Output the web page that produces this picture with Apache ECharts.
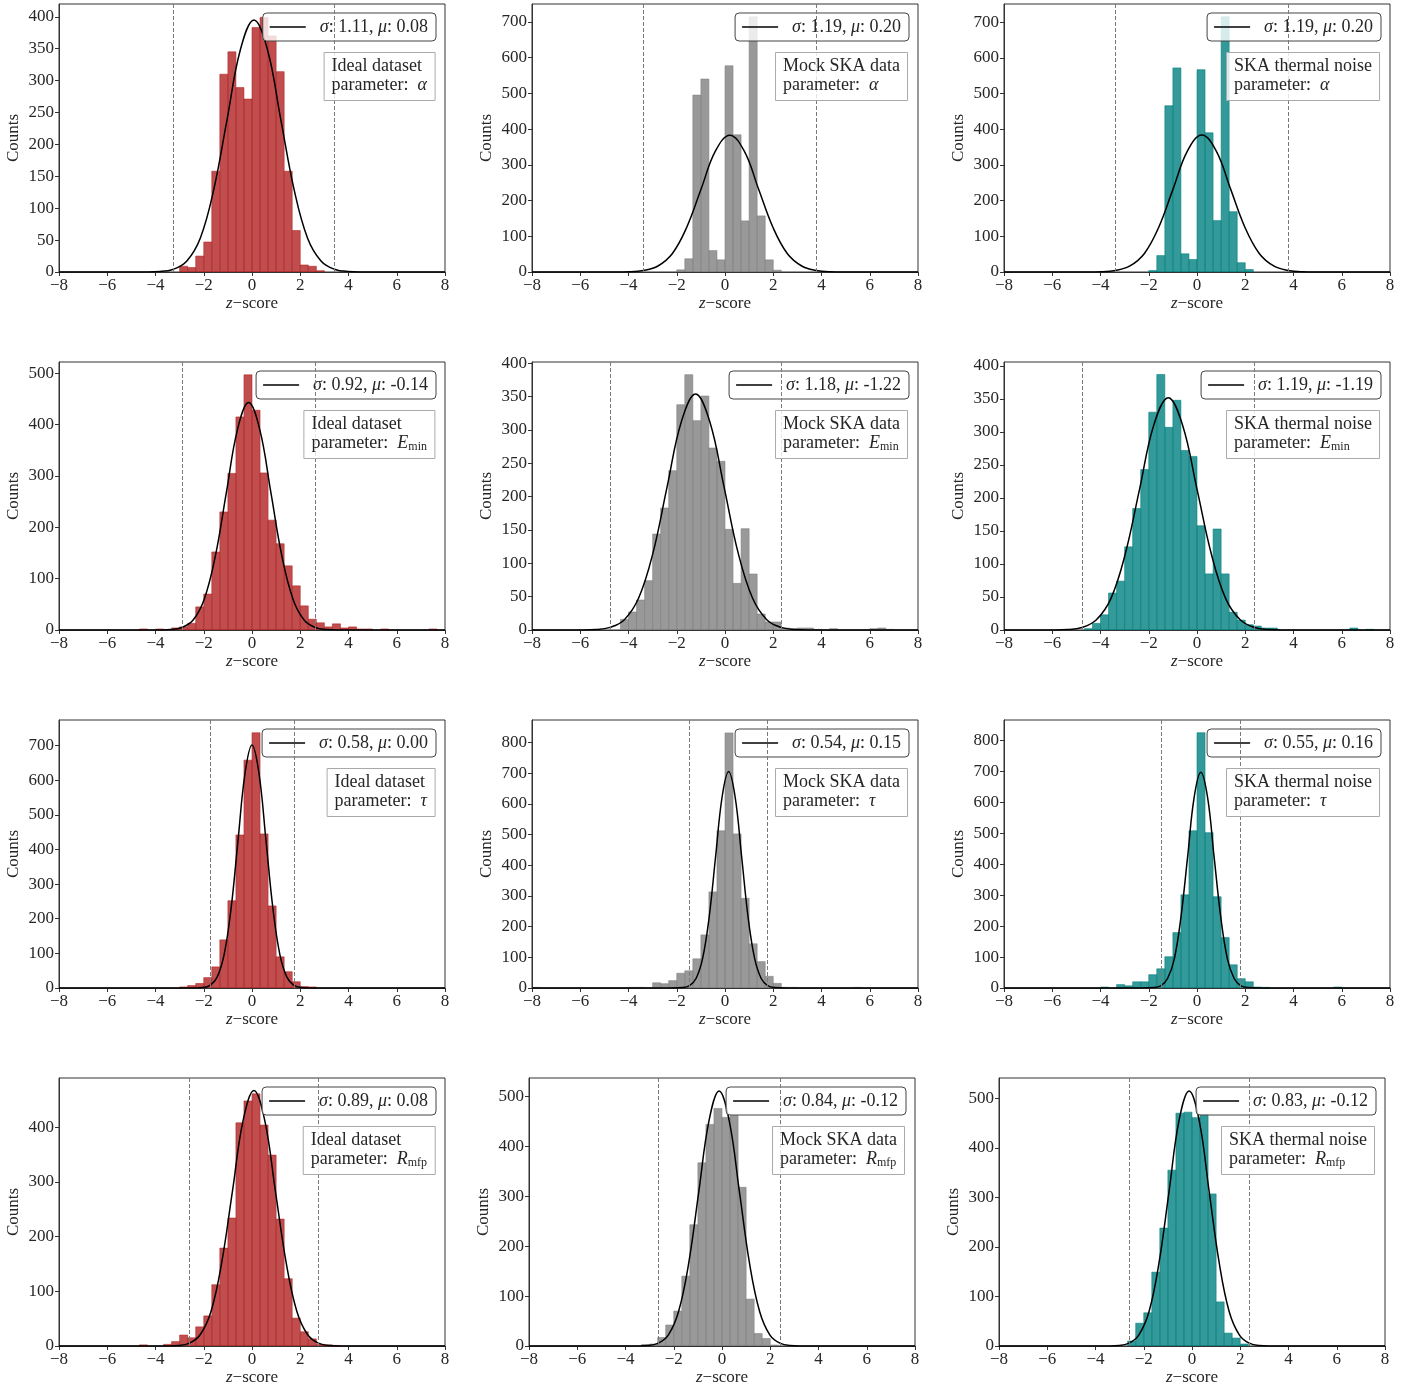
<!DOCTYPE html>
<html>
<head>
<meta charset="utf-8">
<script src="https://cdn.jsdelivr.net/npm/echarts@6/dist/echarts.min.js"></script>
<style>
html, body { margin: 0; padding: 0; background: #fff; }
#main { width: 1413px; height: 1390px; }
</style>
</head>
<body>
<div id="main"></div>
<script>
// histogram bins: 48 bins of width 1/3 between -8 and 8
const BIN_LO = -8;
const BIN_W = 16 / 48;

// counts per bin (index 0 = [-8, -7.67))
const countsAlphaIdeal = [
	0, 0, 0, 0, 0, 0, 0, 0, 0, 0, 0, 0,
	0, 0, 0, 9, 7, 25, 47, 158, 310, 345, 289, 271,
	383, 399, 370, 314, 158, 65, 11, 9, 2, 0, 0, 0,
	0, 0, 0, 0, 0, 0, 0, 0, 0, 0, 0, 0];
const countsAlphaMock = [
	0, 0, 0, 0, 0, 0, 0, 0, 0, 0, 0, 0,
	0, 0, 0, 0, 0, 0, 6, 37, 495, 540, 60, 34,
	577, 384, 143, 714, 157, 34, 5, 0, 0, 0, 0, 0,
	0, 0, 0, 0, 0, 0, 0, 0, 0, 0, 0, 0];
const countsAlphaSka = [
	0, 0, 0, 0, 0, 0, 0, 0, 0, 0, 0, 0,
	0, 0, 0, 0, 0, 0, 4, 46, 466, 572, 51, 35,
	567, 390, 144, 715, 169, 26, 7, 0, 0, 0, 0, 0,
	0, 0, 0, 0, 0, 0, 0, 0, 0, 0, 0, 0];
const countsEminIdeal = [
	0, 0, 0, 0, 0, 0, 0, 0, 0, 0, 2, 0,
	2, 0, 4, 6, 13, 45, 70, 152, 230, 305, 415, 497,
	428, 306, 214, 168, 125, 86, 47, 21, 14, 6, 12, 4,
	6, 2, 2, 0, 2, 0, 0, 0, 0, 0, 2, 0];
const countsEminMock = [
	0, 0, 0, 0, 0, 0, 0, 0, 0, 0, 0, 16,
	27, 45, 74, 144, 183, 239, 338, 383, 314, 351, 273, 253,
	151, 70, 152, 84, 24, 12, 12, 3, 2, 3, 3, 1,
	0, 2, 0, 0, 0, 0, 2, 3, 1, 0, 0, 0];
const countsEminSka = [
	0, 0, 0, 0, 0, 0, 0, 0, 0, 0, 2, 10,
	23, 56, 74, 126, 184, 243, 330, 387, 307, 348, 272, 263,
	158, 85, 153, 85, 27, 15, 8, 6, 3, 3, 0, 0,
	0, 0, 0, 0, 0, 0, 0, 3, 0, 1, 0, 0];
const countsTauIdeal = [
	0, 0, 0, 0, 0, 0, 0, 0, 0, 0, 0, 0,
	0, 0, 0, 3, 7, 13, 30, 61, 139, 252, 442, 658,
	737, 445, 237, 90, 47, 18, 4, 3, 0, 0, 0, 0,
	0, 0, 0, 0, 0, 0, 0, 0, 0, 0, 0, 0];
const countsTauMock = [
	2, 0, 0, 0, 0, 0, 0, 0, 0, 0, 0, 0,
	2, 2, 0, 17, 14, 24, 48, 56, 95, 173, 313, 512,
	831, 502, 292, 144, 86, 38, 15, 2, 2, 0, 0, 0,
	0, 0, 0, 0, 2, 0, 0, 0, 0, 0, 0, 0];
const countsTauSka = [
	0, 0, 0, 0, 0, 0, 0, 0, 0, 0, 0, 0,
	3, 0, 11, 7, 20, 20, 43, 62, 101, 179, 301, 508,
	825, 502, 295, 163, 75, 30, 20, 3, 2, 0, 0, 0,
	0, 0, 0, 0, 0, 3, 0, 0, 0, 0, 0, 0];
const countsRmfpIdeal = [
	0, 0, 0, 0, 0, 0, 0, 0, 0, 0, 2, 0,
	0, 3, 8, 20, 15, 35, 55, 112, 179, 234, 408, 448,
	461, 404, 349, 232, 123, 51, 26, 13, 3, 2, 1, 0,
	0, 0, 0, 0, 0, 0, 0, 0, 0, 0, 0, 0];
const countsRmfpMock = [
	0, 0, 0, 0, 0, 0, 0, 0, 0, 0, 0, 0,
	0, 0, 3, 4, 17, 42, 70, 140, 243, 367, 444, 476,
	458, 462, 318, 94, 25, 15, 2, 0, 0, 0, 0, 0,
	0, 0, 0, 0, 0, 0, 0, 0, 0, 0, 0, 0];
const countsRmfpSka = [
	0, 0, 0, 0, 0, 0, 0, 0, 0, 0, 0, 0,
	0, 0, 0, 0, 10, 46, 67, 149, 238, 355, 470, 472,
	461, 468, 307, 89, 26, 16, 4, 0, 0, 0, 0, 0,
	0, 0, 0, 0, 0, 0, 0, 0, 0, 0, 0, 0];

// gaussian fit curves, points as [z, counts]
const fitAlphaIdeal = [[-8, 0], [-4.92, 0], [-3.81, 0.9], [-3.25, 4.4], [-2.70, 17.3], [-2.14, 53.4], [-1.59, 128.3], [-1.03, 239.6], [-0.48, 348.6], [0.08, 395], [0.64, 348.6], [1.19, 239.6], [1.75, 128.3], [2.30, 53.4], [2.86, 17.3], [3.41, 4.4], [3.97, 0.9], [5.08, 0], [8, 0]];
const fitAlphaMock = [[-8, 0], [-5.16, 0], [-3.97, 0.8], [-3.37, 4.3], [-2.78, 16.8], [-2.18, 51.8], [-1.59, 124.4], [-0.99, 232.3], [-0.40, 338.0], [0.20, 383], [0.80, 338.0], [1.39, 232.3], [1.99, 124.4], [2.58, 51.8], [3.18, 16.8], [3.77, 4.3], [4.37, 0.8], [5.56, 0], [8, 0]];
const fitAlphaSka = [[-8, 0], [-5.16, 0], [-3.97, 0.8], [-3.37, 4.3], [-2.78, 16.9], [-2.18, 52.0], [-1.59, 124.7], [-0.99, 232.9], [-0.40, 338.9], [0.20, 384], [0.80, 338.9], [1.39, 232.9], [1.99, 124.7], [2.58, 52.0], [3.18, 16.9], [3.77, 4.3], [4.37, 0.8], [5.56, 0], [8, 0]];
const fitEminIdeal = [[-8, 0], [-4.28, 0], [-3.36, 1.0], [-2.90, 4.9], [-2.44, 19.4], [-1.98, 59.9], [-1.52, 143.8], [-1.06, 268.7], [-0.60, 390.9], [-0.14, 443], [0.32, 390.9], [0.78, 268.7], [1.24, 143.8], [1.70, 59.9], [2.16, 19.4], [2.62, 4.9], [3.08, 1.0], [4.00, 0], [8, 0]];
const fitEminMock = [[-8, 0], [-6.53, 0], [-5.35, 0.8], [-4.76, 3.9], [-4.17, 15.5], [-3.58, 47.9], [-2.99, 114.9], [-2.40, 214.7], [-1.81, 312.4], [-1.22, 354], [-0.63, 312.4], [-0.04, 214.7], [0.55, 114.9], [1.14, 47.9], [1.73, 15.5], [2.32, 3.9], [2.91, 0.8], [4.09, 0], [8, 0]];
const fitEminSka = [[-8, 0], [-6.55, 0], [-5.36, 0.8], [-4.76, 3.9], [-4.17, 15.5], [-3.57, 47.6], [-2.98, 114.3], [-2.38, 213.5], [-1.79, 310.6], [-1.19, 352], [-0.60, 310.6], [0.00, 213.5], [0.60, 114.3], [1.19, 47.6], [1.79, 15.5], [2.38, 3.9], [2.98, 0.8], [4.17, 0], [8, 0]];
const fitTauIdeal = [[-8, 0], [-2.61, 0], [-2.03, 1.5], [-1.74, 7.8], [-1.45, 30.8], [-1.16, 95.0], [-0.87, 227.9], [-0.58, 425.8], [-0.29, 619.5], [0, 702], [0.29, 619.5], [0.58, 425.8], [0.87, 227.9], [1.16, 95.0], [1.45, 30.8], [1.74, 7.8], [2.03, 1.5], [2.61, 0], [8, 0]];
const fitTauMock = [[-8, 0], [-2.28, 0], [-1.74, 1.6], [-1.47, 7.8], [-1.20, 30.9], [-0.93, 95.4], [-0.66, 228.9], [-0.39, 427.6], [-0.12, 622.2], [0.15, 705], [0.42, 622.2], [0.69, 427.6], [0.96, 228.9], [1.23, 95.4], [1.50, 30.9], [1.77, 7.8], [2.04, 1.6], [2.58, 0], [8, 0]];
const fitTauSka = [[-8, 0], [-2.32, 0], [-1.77, 1.5], [-1.49, 7.7], [-1.22, 30.6], [-0.94, 94.3], [-0.67, 226.3], [-0.39, 422.7], [-0.12, 615.1], [0.16, 697], [0.44, 615.1], [0.71, 422.7], [0.99, 226.3], [1.26, 94.3], [1.54, 30.6], [1.81, 7.7], [2.09, 1.5], [2.64, 0], [8, 0]];
const fitRmfpIdeal = [[-8, 0], [-3.93, 0], [-3.04, 1.0], [-2.59, 5.2], [-2.15, 20.5], [-1.70, 63.2], [-1.26, 151.6], [-0.81, 283.2], [-0.37, 412.1], [0.08, 467], [0.53, 412.1], [0.97, 283.2], [1.42, 151.6], [1.86, 63.2], [2.31, 20.5], [2.75, 5.2], [3.20, 1.0], [4.09, 0], [8, 0]];
const fitRmfpMock = [[-8, 0], [-3.90, 0], [-3.06, 1.1], [-2.64, 5.7], [-2.22, 22.4], [-1.80, 69.1], [-1.38, 165.9], [-0.96, 309.9], [-0.54, 451.0], [-0.12, 511], [0.30, 451.0], [0.72, 309.9], [1.14, 165.9], [1.56, 69.1], [1.98, 22.4], [2.40, 5.7], [2.82, 1.1], [3.66, 0], [8, 0]];
const fitRmfpSka = [[-8, 0], [-3.86, 0], [-3.03, 1.1], [-2.61, 5.7], [-2.20, 22.6], [-1.78, 69.7], [-1.37, 167.2], [-0.95, 312.3], [-0.54, 454.5], [-0.12, 515], [0.30, 454.5], [0.71, 312.3], [1.13, 167.2], [1.54, 69.7], [1.96, 22.6], [2.37, 5.7], [2.79, 1.1], [3.62, 0], [8, 0]];

// legend values and the dashed cut lines, panel order row by row
const sigmaText = ['1.11', '1.19', '1.19', '0.92', '1.18', '1.19', '0.58', '0.54', '0.55', '0.89', '0.84', '0.83'];
const muText = ['0.08', '0.20', '0.20', '-0.14', '-1.22', '-1.19', '0.00', '0.15', '0.16', '0.08', '-0.12', '-0.12'];
const cutLo = [-3.25, -3.37, -3.37, -2.90, -4.76, -4.76, -1.74, -1.47, -1.49, -2.59, -2.64, -2.61];
const cutHi = [3.41, 3.77, 3.77, 2.62, 2.32, 2.38, 1.74, 1.77, 1.81, 2.75, 2.40, 2.37];

const datasetNames = ['Ideal dataset', 'Mock SKA data', 'SKA thermal noise'];
const paramNames = ['{i|α}', '{i|E}{sub|min}', '{i|τ}', '{i|R}{sub|mfp}'];

const xTicks = [-8, -6, -4, -2, 0, 2, 4, 6, 8];
const yTicks = [
	[0, 50, 100, 150, 200, 250, 300, 350, 400],
	[0, 100, 200, 300, 400, 500, 600, 700],
	[0, 100, 200, 300, 400, 500, 600, 700],
	[0, 100, 200, 300, 400, 500],
	[0, 50, 100, 150, 200, 250, 300, 350, 400],
	[0, 50, 100, 150, 200, 250, 300, 350, 400],
	[0, 100, 200, 300, 400, 500, 600, 700],
	[0, 100, 200, 300, 400, 500, 600, 700, 800],
	[0, 100, 200, 300, 400, 500, 600, 700, 800],
	[0, 100, 200, 300, 400],
	[0, 100, 200, 300, 400, 500],
	[0, 100, 200, 300, 400, 500]
];
const yMax = [420, 750, 751, 522, 402, 406, 774, 873, 866, 490, 537, 541];

const panelCounts = [countsAlphaIdeal, countsAlphaMock, countsAlphaSka, countsEminIdeal, countsEminMock, countsEminSka,
	countsTauIdeal, countsTauMock, countsTauSka, countsRmfpIdeal, countsRmfpMock, countsRmfpSka];
const panelFits = [fitAlphaIdeal, fitAlphaMock, fitAlphaSka, fitEminIdeal, fitEminMock, fitEminSka,
	fitTauIdeal, fitTauMock, fitTauSka, fitRmfpIdeal, fitRmfpMock, fitRmfpSka];

// layout
const W = 1413;
const FONT = "'Liberation Serif', 'DejaVu Serif', serif";
const TXT = '#262626';
const barColors = ['#b22222', '#808080', '#008080'];
const rowTop = [4, 362, 720, 1078];
const colLeft = [[59, 532, 1004], [59, 532, 1004], [59, 532, 1004], [59, 529, 999]];
const PW = 386, PH = 268;

const myChart = echarts.init(document.getElementById('main'));

const grids = [], xAxes = [], yAxes = [], series = [], legends = [], titles = [];

for (let p = 0; p < 12; p++) {
	const r = Math.floor(p / 3), c = p % 3;
	const left = colLeft[r][c], top = rowTop[r];
	const plotRight = left + PW;

	grids.push({ left: left, top: top, width: PW, height: PH, show: true, borderColor: '#333', borderWidth: 1, containLabel: false });

	xAxes.push({
		gridIndex: p, type: 'value', min: -8, max: 8, interval: 2,
		name: '{i|z}−score', nameLocation: 'middle', nameGap: 23,
		nameTextStyle: { fontFamily: FONT, fontSize: 17, color: TXT, rich: { i: { fontStyle: 'italic', fontFamily: FONT, fontSize: 17, color: TXT } } },
		axisLine: { show: true, onZero: false, lineStyle: { color: '#333', width: 1 } },
		axisTick: { show: true, length: 4, lineStyle: { color: '#333' }, customValues: xTicks },
		axisLabel: { margin: 5, fontFamily: FONT, fontSize: 17, color: TXT, customValues: xTicks, formatter: v => String(v).replace('-', '−') },
		splitLine: { show: false }
	});

	yAxes.push({
		gridIndex: p, type: 'value', min: 0, max: yMax[p],
		name: 'Counts', nameLocation: 'middle', nameGap: 37,
		nameTextStyle: { fontFamily: FONT, fontSize: 17, color: TXT },
		axisLine: { show: true, onZero: false, lineStyle: { color: '#333', width: 1 } },
		axisTick: { show: true, length: 4, lineStyle: { color: '#333' }, customValues: yTicks[p] },
		axisLabel: { margin: 5, fontFamily: FONT, fontSize: 17, color: TXT, customValues: yTicks[p] },
		splitLine: { show: false }
	});

	const color = barColors[c];
	const bars = panelCounts[p]
		.map((n, i) => [BIN_LO + i * BIN_W, BIN_LO + (i + 1) * BIN_W, n])
		.filter(d => d[2] > 0);

	series.push({
		type: 'custom', xAxisIndex: p, yAxisIndex: p, clip: true, silent: true,
		data: bars,
		encode: { x: [0, 1], y: 2 },
		renderItem: (params, api) => {
			const a = api.coord([api.value(0), api.value(2)]);
			const b = api.coord([api.value(1), 0]);
			return {
				type: 'rect',
				shape: { x: a[0], y: a[1], width: b[0] - a[0], height: b[1] - a[1] },
				style: { fill: color, stroke: color, lineWidth: 0.7, opacity: 0.8 }
			};
		}
	});

	series.push({
		name: 'fit' + p, type: 'line', xAxisIndex: p, yAxisIndex: p,
		data: panelFits[p], symbol: 'none', smooth: 0.4, clip: true, silent: true,
		lineStyle: { color: '#000', width: 1.5 }, itemStyle: { color: '#000' },
		z: 3,
		markLine: {
			silent: true, symbol: 'none', animation: false,
			label: { show: false },
			lineStyle: { color: '#7a7a7a', type: [4, 2], width: 1 },
			data: [{ xAxis: cutLo[p] }, { xAxis: cutHi[p] }]
		}
	});

	legends.push({
		data: [{ name: 'fit' + p, icon: 'rect' }],
		right: W - (plotRight - 9), top: top + 9,
		padding: [5, 8, 5, 7],
		itemWidth: 36, itemHeight: 1.6,
		itemStyle: { color: '#000' },
		backgroundColor: 'rgba(255,255,255,0.8)', borderColor: '#444', borderWidth: 1, borderRadius: 4,
		selectedMode: false,
		formatter: () => `{i|σ}: ${sigmaText[p]}, {i|μ}: ${muText[p]}`,
		textStyle: {
			fontFamily: FONT, fontSize: 18, color: TXT, padding: [0, 0, 0, 9],
			rich: { i: { fontStyle: 'italic', fontFamily: FONT, fontSize: 18, color: TXT } }
		}
	});

	titles.push({
		text: datasetNames[c] + '\nparameter:  ' + paramNames[r],
		right: W - (plotRight - 10), top: top + 48,
		padding: [5, 8, 6, 8],
		backgroundColor: 'rgba(255,255,255,0.8)', borderColor: '#aaa', borderWidth: 1,
		textStyle: {
			fontFamily: FONT, fontSize: 18, fontWeight: 'normal', color: TXT, lineHeight: 19,
			rich: {
				i: { fontStyle: 'italic', fontFamily: FONT, fontSize: 18, color: TXT, lineHeight: 19 },
				sub: { fontFamily: FONT, fontSize: 12, color: TXT, lineHeight: 12, verticalAlign: 'bottom' }
			}
		}
	});
}

const option = {
	animation: false,
	backgroundColor: '#fff',
	title: titles,
	legend: legends,
	grid: grids,
	xAxis: xAxes,
	yAxis: yAxes,
	series: series
};

myChart.setOption(option);
</script>
</body>
</html>
